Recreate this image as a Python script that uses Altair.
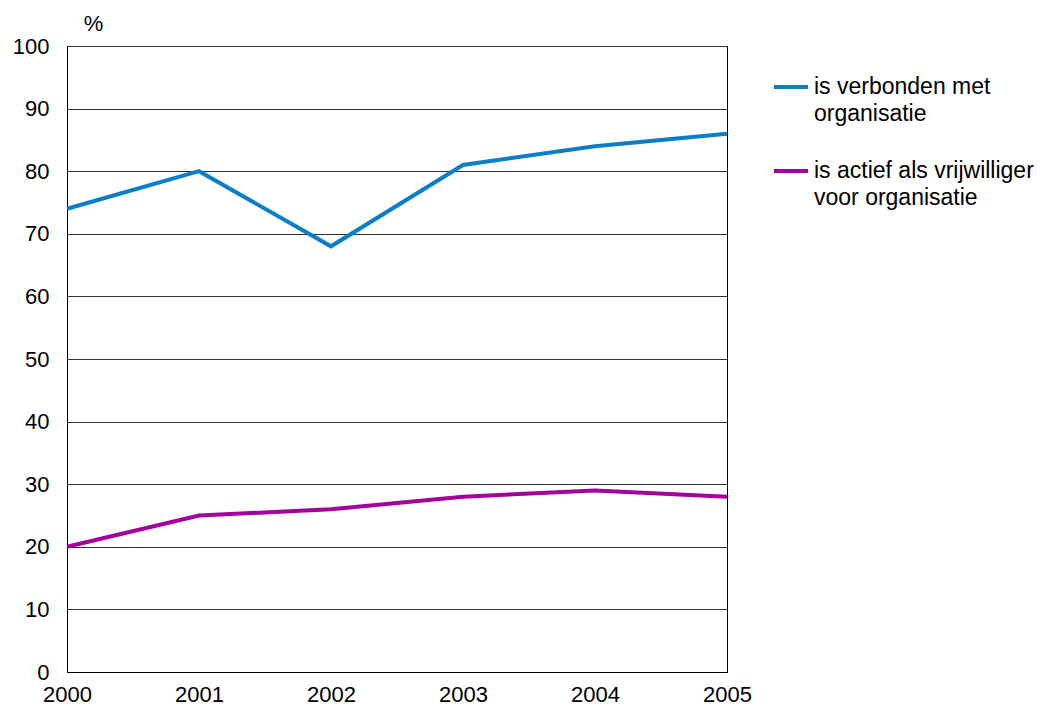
import altair as alt
import pandas as pd

years = [2000, 2001, 2002, 2003, 2004, 2005]
verbonden = [74, 80, 68, 81, 84, 86]
actief = [20, 25, 26, 28, 29, 28]
series_names = ["is verbonden met|organisatie", "is actief als vrijwilliger|voor organisatie"]
colors = ["#0A7EC8", "#A4009C"]

rows = []
for y, v in zip(years, verbonden):
    rows.append({"jaar": y, "waarde": v, "reeks": series_names[0]})
for y, v in zip(years, actief):
    rows.append({"jaar": y, "waarde": v, "reeks": series_names[1]})
df = pd.DataFrame(rows)

FONT = "Liberation Sans"

chart = alt.Chart(df).mark_line(strokeWidth=4, clip=False).encode(
    x=alt.X("jaar:Q", scale=alt.Scale(domain=[2000, 2005], nice=False, zero=False),
            axis=alt.Axis(values=years, format="d", title=None, grid=False, ticks=False,
                          labelPadding=12, domainColor="black", labelFlush=False,
                          labelFont=FONT, labelFontSize=22, labelColor="black")),
    y=alt.Y("waarde:Q", scale=alt.Scale(domain=[0, 100], nice=False),
            axis=alt.Axis(values=list(range(0, 101, 10)), title="%", titleAngle=0,
                          titleX=26, titleY=-16, titleAlign="center", titleBaseline="alphabetic",
                          titleFontWeight="normal", titleFontSize=22, titleFont=FONT,
                          titleColor="black",
                          ticks=False, labelPadding=18, grid=True, gridColor="#333333",
                          gridWidth=1, domainColor="black",
                          labelFont=FONT, labelFontSize=22, labelColor="black")),
    color=alt.Color("reeks:N", scale=alt.Scale(domain=series_names, range=colors),
                    legend=alt.Legend(title=None, orient="none", legendX=705, legendY=22,
                                      symbolType="stroke", symbolSize=1156, symbolStrokeWidth=4,
                                      labelExpr="split(datum.label, '|')",
                                      labelFontSize=23, labelFont=FONT, labelColor="black",
                                      labelLimit=400, rowPadding=26, labelOffset=4,
                                      labelBaseline="middle")),
).properties(
    width=660, height=626,
    autosize=alt.AutoSizeParams(type="none"),
    padding={"left": 59, "top": 38, "right": 312, "bottom": 34},
).configure(
    background="white",
    style={"guide-label": {"lineHeight": 27}},
).configure_view(
    stroke="black", strokeWidth=1
)

chart.save("out.html", embed_options={"renderer": "svg", "actions": False})
